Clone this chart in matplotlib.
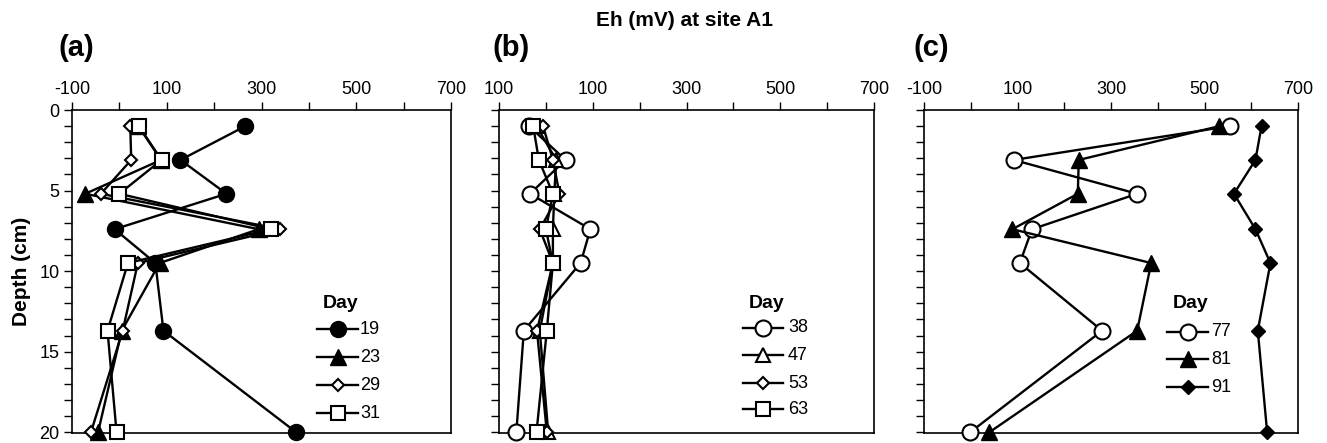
import matplotlib
matplotlib.use("Agg")
import matplotlib.pyplot as plt
import numpy as np

plt.rcParams['font.family'] = ['Liberation Sans', 'DejaVu Sans']

depth = [1.0, 3.1, 5.2, 7.4, 9.5, 13.7, 20.0]

# Panel (a)
days_a = ["19", "23", "29", "31"]
eh_a_19 = [266, 129, 226, -10, 76, 93, 373]
eh_a_23 = [40, 88, -72, 294, 85, 5, -45]
eh_a_29 = [23, 25, -39, 340, 39, 7, -60]
eh_a_31 = [41, 89, 0, 320, 18, -25, -6]

# Panel (b)
days_b = ["38", "47", "53", "63"]
eh_b_38 = [-36, 42, -34, 95, 74, -47, -63]
eh_b_47 = [-20, 22, 18, 15, 15, -13, 5]
eh_b_53 = [-6, 15, 29, -13, 15, -19, 2]
eh_b_63 = [-27, -15, 15, 0, 15, 2, -20]

# Panel (c)
days_c = ["77", "81", "91"]
eh_c_77 = [554, 92, 356, 131, 105, 281, -1]
eh_c_81 = [532, 231, 229, 89, 386, 356, 40]
eh_c_91 = [622, 609, 563, 609, 641, 614, 634]

xticks_major = [-100, 100, 300, 500, 700]
xticks_minor = [0, 200, 400, 600]
xlabels_a = ["-100", "100", "300", "500", "700"]
xlabels_b = ["100", "100", "300", "500", "700"]
xlabels_c = ["-100", "100", "300", "500", "700"]
yticks_major = [0, 5, 10, 15, 20]
ylabels = ["0", "5", "10", "15", "20"]

W, H = 1327, 443
fig = plt.figure(figsize=(W / 100, H / 100), dpi=100)

def px_axes(l, r, t, b):
    return fig.add_axes([l / W, 1 - b / H, (r - l) / W, (b - t) / H])

styles = {
    'fcircle': dict(marker='o', mfc='black', mec='black', ms=11.5),
    'ocircle': dict(marker='o', mfc='white', mec='black', ms=11.5, mew=1.5),
    'ftri': dict(marker='^', mfc='black', mec='black', ms=11),
    'otri': dict(marker='^', mfc='white', mec='black', ms=10, mew=1.5),
    'odiam': dict(marker='D', mfc='white', mec='black', ms=6.5, mew=1.5),
    'fdiam': dict(marker='D', mfc='black', mec='black', ms=7.5),
    'osq': dict(marker='s', mfc='white', mec='black', ms=10.5, mew=1.5),
}

def setup(ax, xlabels, show_y):
    ax.set_xlim(-100, 700)
    ax.set_ylim(20.05, 0)
    ax.xaxis.tick_top()
    ax.set_xticks(xticks_major)
    ax.set_xticklabels(xlabels, fontsize=13)
    ax.set_xticks(xticks_minor, minor=True)
    ax.set_yticks(yticks_major)
    ax.set_yticks(np.arange(0, 21, 1), minor=True)
    if show_y:
        ax.set_yticklabels(ylabels, fontsize=13)
    else:
        ax.set_yticklabels([])
    ax.tick_params(axis='both', which='both', direction='out', length=6, width=1.0, pad=3)
    ax.tick_params(axis='x', which='both', top=True, bottom=False)
    ax.tick_params(axis='y', which='both', left=True, right=False)
    for s in ax.spines.values():
        s.set_linewidth(1.2)

def plot_series(ax, vals, style):
    ax.plot(vals, depth, color='black', lw=1.7, clip_on=False, zorder=3, **styles[style])

def legend(ax_x0, ax_x1, y_day, ys, labels, sty, text_x):
    fig.text(ax_x0 / W + 0.004, 1 - y_day / H, "Day", fontsize=14, fontweight='bold',
             ha='left', va='center')
    for y, lab, st in zip(ys, labels, sty):
        line = matplotlib.lines.Line2D([ax_x0 / W, ax_x1 / W], [1 - y / H, 1 - y / H],
                                       transform=fig.transFigure, color='black', lw=1.7)
        fig.add_artist(line)
        mid = matplotlib.lines.Line2D([(ax_x0 + ax_x1) / 2 / W], [1 - y / H],
                                      transform=fig.transFigure, lw=0,
                                      **styles[st])
        fig.add_artist(mid)
        fig.text(text_x / W, 1 - y / H, lab, fontsize=13, ha='left', va='center')

# Panel a
axa = px_axes(72, 451, 110, 433)
setup(axa, xlabels_a, True)
plot_series(axa, eh_a_19, 'fcircle')
plot_series(axa, eh_a_23, 'ftri')
plot_series(axa, eh_a_29, 'odiam')
plot_series(axa, eh_a_31, 'osq')
axa.set_ylabel("Depth (cm)", fontsize=15, fontweight='bold', labelpad=6)
legend(317, 358, 303, [329, 357, 385, 413], days_a,
       ['fcircle', 'ftri', 'odiam', 'osq'], 360)

# Panel b
axb = px_axes(499, 874, 110, 433)
setup(axb, xlabels_b, False)
plot_series(axb, eh_b_38, 'ocircle')
plot_series(axb, eh_b_47, 'otri')
plot_series(axb, eh_b_53, 'odiam')
plot_series(axb, eh_b_63, 'osq')
legend(743, 783, 303, [328, 355, 383, 409], days_b,
       ['ocircle', 'otri', 'odiam', 'osq'], 788)

# Panel c
axc = px_axes(924, 1298, 110, 433)
setup(axc, xlabels_c, False)
plot_series(axc, eh_c_77, 'ocircle')
plot_series(axc, eh_c_81, 'ftri')
plot_series(axc, eh_c_91, 'fdiam')
legend(1167, 1208, 303, [332, 359, 387], days_c,
       ['ocircle', 'ftri', 'fdiam'], 1211)

fig.text(685 / W, 1 - 20 / H, "Eh (mV) at site A1", fontsize=15, fontweight='bold',
         ha='center', va='center')
for lab, x in [("(a)", 59), ("(b)", 493), ("(c)", 913)]:
    fig.text(x / W, 1 - 48 / H, lab, fontsize=21, fontweight='bold', ha='left', va='center')

fig.savefig("out.png", dpi=100)
